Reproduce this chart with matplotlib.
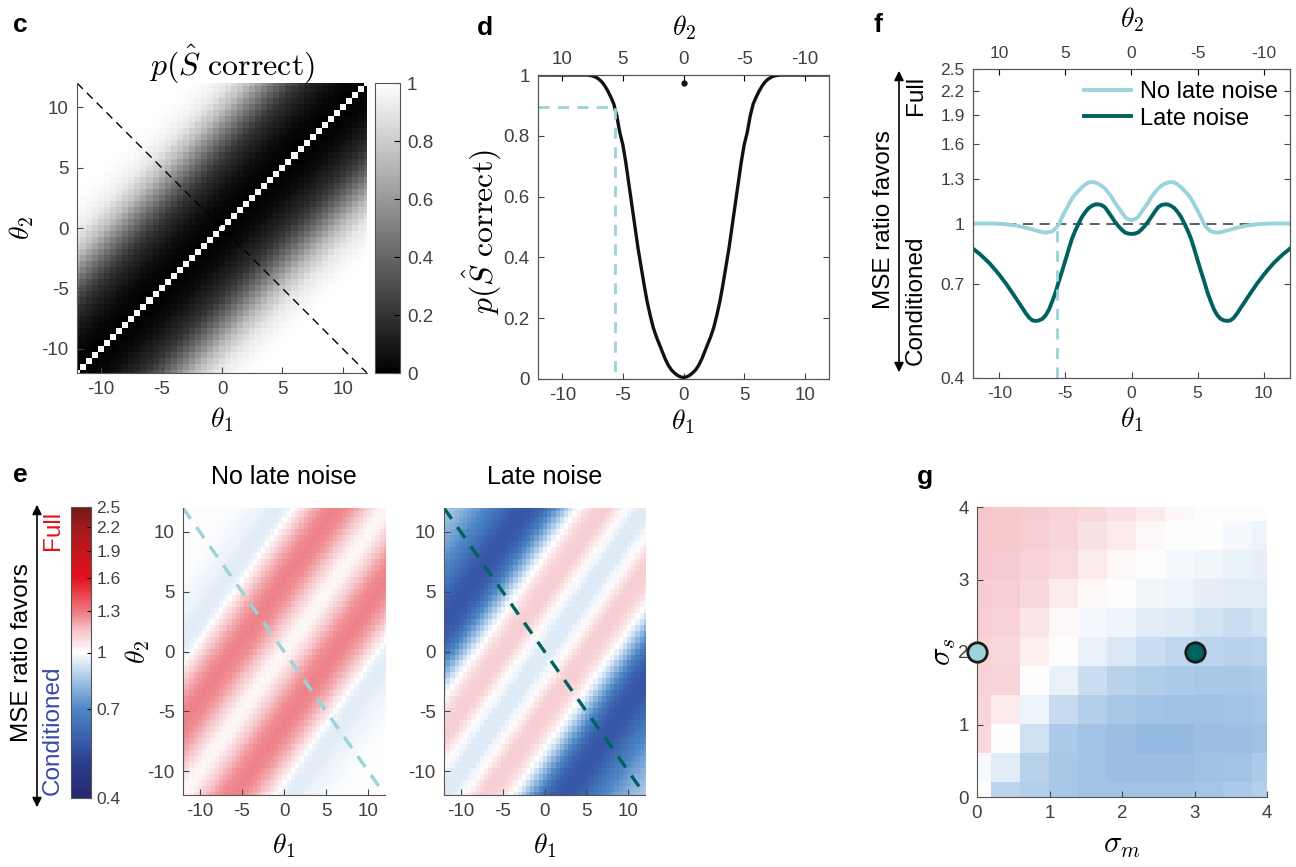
import numpy as np
import matplotlib
matplotlib.use("Agg")
import matplotlib.pyplot as plt
from matplotlib.colors import LinearSegmentedColormap, LogNorm
from matplotlib.patches import FancyArrowPatch

plt.rcParams['font.family'] = ['Liberation Sans', 'DejaVu Sans']
plt.rcParams['mathtext.fontset'] = 'cm'

W, H = 1296, 867

# half profiles along the anti-diagonal theta1 = -theta2, theta1 = 0..12 in steps of 0.25
# (both curves are symmetric about 0); heatmaps depend only on theta1 - theta2
t_half = np.arange(0, 12.01, 0.25)
p_correct = [0.005, 0.007, 0.012, 0.02, 0.03, 0.045, 0.065, 0.09, 0.115, 0.14,
             0.17, 0.21, 0.255, 0.31, 0.37, 0.43, 0.50, 0.57, 0.64, 0.71,
             0.77, 0.81, 0.865, 0.905, 0.928, 0.948, 0.965, 0.978, 0.987, 0.993,
             0.997, 0.999, 1.0, 1.0, 1.0, 1.0, 1.0, 1.0, 1.0, 1.0,
             1.0, 1.0, 1.0, 1.0, 1.0, 1.0, 1.0, 1.0, 1.0]
p_diag = 0.974          # value on theta1 = theta2 (dot in panel d)

ratio_nolate = [1.02, 1.025, 1.04, 1.07, 1.10, 1.13, 1.17, 1.20, 1.23, 1.25,
                1.265, 1.275, 1.28, 1.275, 1.26, 1.24, 1.215, 1.19, 1.16, 1.12,
                1.08, 1.04, 0.995, 0.97, 0.955, 0.95, 0.948, 0.95, 0.955, 0.96,
                0.965, 0.97, 0.975, 0.98, 0.984, 0.988, 0.99, 0.993, 0.995, 0.997,
                0.998, 0.999, 1.0, 1.0, 1.0, 1.0, 1.0, 1.0, 1.0]
ratio_late = [0.94, 0.942, 0.948, 0.965, 0.985, 1.01, 1.04, 1.07, 1.10, 1.115,
              1.12, 1.12, 1.11, 1.095, 1.07, 1.04, 1.0, 0.96, 0.915, 0.86,
              0.805, 0.755, 0.71, 0.665, 0.63, 0.60, 0.58, 0.568, 0.563, 0.561,
              0.563, 0.572, 0.587, 0.605, 0.623, 0.642, 0.661, 0.68, 0.70, 0.718,
              0.737, 0.755, 0.772, 0.79, 0.805, 0.82, 0.835, 0.848, 0.862]

theta_thresh = -5.65
p_thresh = 0.895
ratio_thresh = 0.965

# panel g: MSE ratio over sigma_m (columns) and sigma_s (rows, top = 4)
sigma_m = [0, 0.4, 0.8, 1.2, 1.6, 2.0, 2.4, 2.8, 3.2, 3.6, 4.0]
sigma_s = [4.0, 3.6, 3.2, 2.8, 2.4, 2.0, 1.6, 1.2, 0.8, 0.4, 0.0]
ratio_grid = [
    [1.14, 1.135, 1.125, 1.11, 1.095, 1.07, 1.045, 1.02, 1.0, 1.0, 1.0],
    [1.135, 1.13, 1.12, 1.10, 1.07, 1.05, 1.02, 1.0, 0.995, 0.985, 0.97],
    [1.13, 1.125, 1.11, 1.085, 1.045, 1.02, 1.0, 0.98, 0.975, 0.96, 0.955],
    [1.125, 1.12, 1.095, 1.05, 1.015, 1.0, 0.975, 0.965, 0.955, 0.945, 0.945],
    [1.12, 1.11, 1.06, 1.015, 0.985, 0.97, 0.945, 0.94, 0.92, 0.91, 0.92],
    [1.11, 1.09, 1.04, 1.0, 0.96, 0.935, 0.905, 0.89, 0.88, 0.875, 0.88],
    [1.11, 1.10, 1.0, 0.96, 0.905, 0.875, 0.865, 0.855, 0.85, 0.85, 0.855],
    [1.10, 1.05, 0.97, 0.90, 0.87, 0.85, 0.84, 0.835, 0.835, 0.84, 0.845],
    [1.09, 1.0, 0.915, 0.855, 0.84, 0.83, 0.815, 0.815, 0.825, 0.83, 0.835],
    [0.98, 0.945, 0.875, 0.85, 0.84, 0.83, 0.83, 0.83, 0.835, 0.84, 0.855],
    [1.0, 0.88, 0.87, 0.85, 0.84, 0.84, 0.84, 0.84, 0.845, 0.855, 0.87],
]
pt_nolate = (0, 2)
pt_late = (3, 2)

ratio_ticks = [0.4, 0.7, 1, 1.3, 1.6, 1.9, 2.2, 2.5]
ratio_ticklabels = ['0.4', '0.7', '1', '1.3', '1.6', '1.9', '2.2', '2.5']

c_light = '#9ad3da'
c_dark = '#00625e'
tick_col = '#404040'

cmap_rb = LinearSegmentedColormap.from_list('rb', [
    (0.0, '#262a6e'), (0.122, '#2a3d8c'), (0.18, '#3656a5'), (0.305, '#4c86c5'),
    (0.411, '#a8c8e8'), (0.5, '#ffffff'), (0.576, '#f6c4c8'), (0.643, '#ee7880'),
    (0.757, '#e4101c'), (0.85, '#c2161d'), (0.93, '#a11a1e'), (1.0, '#751817')])
norm_rb = LogNorm(0.4, 2.5)


def full(v):
    v = np.asarray(v)
    return np.concatenate([v[::-1], v[1:]])


t_full = np.concatenate([-t_half[::-1], t_half[1:]])
n = 49
idx = np.abs(np.arange(n)[:, None] - np.arange(n)[None, :])


def px_axes(x0, y0, x1, y1):
    return fig.add_axes([x0 / W, 1 - y1 / H, (x1 - x0) / W, (y1 - y0) / H])


def ftext(x, y, s, **kw):
    fig.text(x / W, 1 - y / H, s, ha=kw.pop('ha', 'center'), va=kw.pop('va', 'center'), **kw)


def style(ax, size=13.5, box=False):
    ax.tick_params(direction='in', labelsize=size, labelcolor=tick_col, color='#444444',
                   length=4, width=0.8, top=False, right=box, pad=6)
    for s in ax.spines.values():
        s.set_color('#555555')
        s.set_linewidth(0.8)
    if not box:
        ax.spines['top'].set_visible(False)
        ax.spines['right'].set_visible(False)


fig = plt.figure(figsize=(W / 100, H / 100), dpi=100)
ext = [-12.25, 12.25, -12.25, 12.25]
ticks = [-10, -5, 0, 5, 10]
tlabels = ['-10', '-5', '0', '5', '10']
th_size = 20

# ---- c
axc = px_axes(77, 83, 367, 373)
img_c = np.asarray(p_correct)[idx]
np.fill_diagonal(img_c, p_diag)
im = axc.imshow(img_c, origin='lower', extent=ext, cmap='gray', vmin=0, vmax=1,
                interpolation='nearest', aspect='auto')
axc.plot([-12, 12], [12, -12], ls=(0, (6, 4)), color='k', lw=1)
axc.set_xlim(-12, 12)
axc.set_ylim(-12, 12)
axc.set_xticks(ticks, tlabels)
axc.set_yticks(ticks, tlabels)
style(axc)
caxc = px_axes(375, 83, 400, 373)
cb = fig.colorbar(im, cax=caxc, ticks=[0, 0.2, 0.4, 0.6, 0.8, 1])
cb.ax.set_yticklabels(['0', '0.2', '0.4', '0.6', '0.8', '1'])
cb.ax.tick_params(direction='in', labelsize=13.5, labelcolor=tick_col, length=4, pad=5)
cb.outline.set_edgecolor('#555555')
ftext(20, 25, 'c', fontsize=19, fontweight='bold')
ftext(232, 64, r'$p(\hat{S}\ \mathrm{correct})$', fontsize=23)
ftext(222, 420, r'$\theta_1$', fontsize=th_size)
ftext(22, 228, r'$\theta_2$', fontsize=th_size, rotation=90)

# ---- d
axd = px_axes(538, 75, 829, 379)
axd.plot(t_full, full(p_correct), color='#111111', lw=2.4)
axd.plot([-12, theta_thresh, theta_thresh], [p_thresh, p_thresh, 0],
         ls=(0, (4, 3)), color=c_light, lw=2)
axd.plot([0], [p_diag], 'o', color='#111111', ms=3.5)
axd.set_xlim(-12, 12)
axd.set_ylim(0, 1)
axd.set_xticks(ticks, tlabels)
axd.set_yticks([0, 0.2, 0.4, 0.6, 0.8, 1], ['0', '0.2', '0.4', '0.6', '0.8', '1'])
style(axd, box=True)
axd2 = axd.twiny()
axd2.set_xlim(12, -12)
axd2.set_xticks([10, 5, 0, -5, -10], ['10', '5', '0', '-5', '-10'])
axd2.tick_params(direction='in', labelsize=13.5, labelcolor=tick_col, length=4, pad=5)
for s in axd2.spines.values():
    s.set_color('#555555')
    s.set_linewidth(0.8)
ftext(485, 28, 'd', fontsize=19, fontweight='bold')
ftext(684, 28, r'$\theta_2$', fontsize=th_size)
ftext(683, 422, r'$\theta_1$', fontsize=th_size)
ftext(482, 232, r'$p(\hat{S}\ \mathrm{correct})$', fontsize=23, rotation=90)

# ---- f
axf = px_axes(973, 69, 1290, 378)
axf.set_yscale('log')
axf.axhline(1, color='#444444', lw=1.2, ls=(0, (6, 4)))
axf.plot(t_full, full(ratio_nolate), color=c_light, lw=2.8, label='No late noise')
axf.plot(t_full, full(ratio_late), color=c_dark, lw=2.8, label='Late noise')
axf.plot([theta_thresh, theta_thresh], [0.4, ratio_thresh], ls=(0, (4, 3)), color=c_light, lw=2)
axf.set_xlim(-12, 12)
axf.set_ylim(0.4, 2.5)
axf.set_xticks(ticks, tlabels)
axf.set_yticks(ratio_ticks, ratio_ticklabels)
axf.minorticks_off()
style(axf, size=12.5, box=True)
axf2 = axf.twiny()
axf2.set_xlim(12, -12)
axf2.set_xticks([10, 5, 0, -5, -10], ['10', '5', '0', '-5', '-10'])
axf2.tick_params(direction='in', labelsize=12.5, labelcolor=tick_col, length=4, pad=6)
for s in axf2.spines.values():
    s.set_color('#555555')
    s.set_linewidth(0.8)
axf.legend(loc='upper right', frameon=False, fontsize=17, handlelength=2.0,
           borderaxespad=0.1, labelspacing=0.2, handletextpad=0.4)
ftext(878, 25, 'f', fontsize=19, fontweight='bold')
ftext(1132, 20, r'$\theta_2$', fontsize=th_size)
ftext(1132, 420, r'$\theta_1$', fontsize=th_size)
fig.add_artist(FancyArrowPatch((899 / W, 1 - 375 / H), (899 / W, 1 - 68 / H),
                               transform=fig.transFigure, arrowstyle='<|-|>',
                               mutation_scale=14, lw=1.2, color='k'))
ftext(884, 220, 'MSE ratio favors', fontsize=17.5, rotation=90)
ftext(916, 95, 'Full', fontsize=17.5, rotation=90)
ftext(916, 300, 'Conditioned', fontsize=17.5, rotation=90)

# ---- e
narrow = ['Liberation Sans Narrow', 'Liberation Sans', 'DejaVu Sans']
caxe = px_axes(71, 507, 91, 798)
sm = plt.cm.ScalarMappable(norm=norm_rb, cmap=cmap_rb)
cbe = fig.colorbar(sm, cax=caxe)
cbe.ax.minorticks_off()
cbe.set_ticks(ratio_ticks)
cbe.ax.set_yticklabels(ratio_ticklabels)
cbe.ax.minorticks_off()
cbe.ax.tick_params(direction='in', labelsize=12.5, labelcolor=tick_col, length=3, pad=4)
cbe.outline.set_edgecolor('#555555')
fig.add_artist(FancyArrowPatch((37 / W, 1 - 810 / H), (37 / W, 1 - 502 / H),
                               transform=fig.transFigure, arrowstyle='<|-|>',
                               mutation_scale=14, lw=1.2, color='k'))
ftext(22, 653, 'MSE ratio favors', fontsize=17.5, rotation=90)
ftext(53, 530, 'Full', fontsize=17.5, rotation=90, color='#e3131b')
ftext(53, 730, 'Conditioned', fontsize=17.5, rotation=90, color='#3a48a6')
ftext(20, 475, 'e', fontsize=19, fontweight='bold')

for (x0, x1), prof, title, dcol in [((183, 385), ratio_nolate, 'No late noise', c_light),
                                    ((444, 645), ratio_late, 'Late noise', c_dark)]:
    ax = px_axes(x0, 508, x1, 795)
    ax.imshow(np.asarray(prof)[idx], origin='lower', extent=ext, cmap=cmap_rb, norm=norm_rb,
              interpolation='nearest', aspect='auto')
    ax.plot([-12, 12], [12, -12], ls=(0, (4, 3)), color=dcol, lw=2.4)
    ax.set_xlim(-12, 12)
    ax.set_ylim(-12, 12)
    ax.set_xticks(ticks, tlabels)
    ax.set_yticks(ticks, tlabels)
    style(ax)
    for lab in ax.get_xticklabels() + ax.get_yticklabels():
        lab.set_family(narrow)
    ftext((x0 + x1) / 2, 477, title, fontsize=18, family=narrow)
    ftext((x0 + x1) / 2, 846, r'$\theta_1$', fontsize=th_size)
ftext(138, 652, r'$\theta_2$', fontsize=th_size, rotation=90)

# ---- g
axg = px_axes(977, 507, 1267, 797)
axg.imshow(np.asarray(ratio_grid), origin='upper', extent=[-0.2, 4.2, -0.2, 4.2],
           cmap=cmap_rb, norm=norm_rb, interpolation='nearest', aspect='auto')
axg.plot(*pt_nolate, 'o', ms=14, mfc=c_light, mec='#1a1a1a', mew=2, clip_on=False, zorder=5)
axg.plot(*pt_late, 'o', ms=14, mfc=c_dark, mec='#1a1a1a', mew=2, clip_on=False, zorder=5)
axg.set_xlim(0, 4)
axg.set_ylim(0, 4)
axg.set_xticks([0, 1, 2, 3, 4], ['0', '1', '2', '3', '4'])
axg.set_yticks([0, 1, 2, 3, 4], ['0', '1', '2', '3', '4'])
style(axg, size=13.5)
ftext(925, 477, 'g', fontsize=19, fontweight='bold')
ftext(1122, 845, r'$\sigma_m$', fontsize=22)
ftext(943, 652, r'$\sigma_s$', fontsize=22, rotation=90)

fig.savefig('out.png', dpi=100)
